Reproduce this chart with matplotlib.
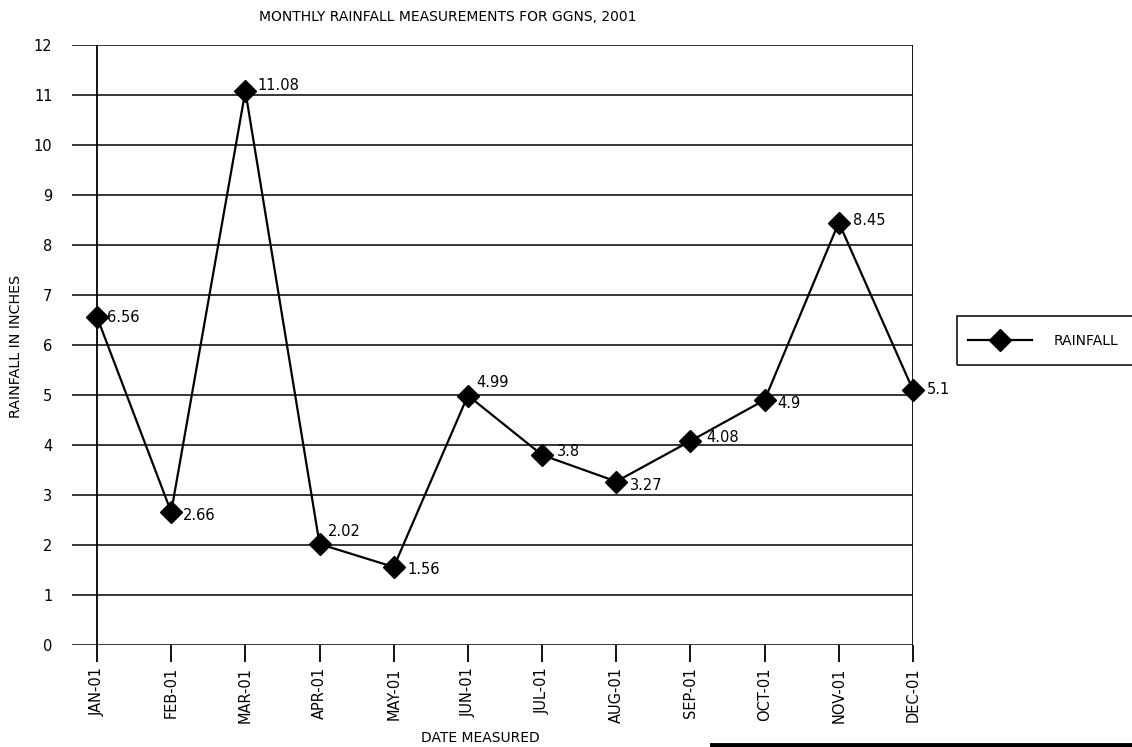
import matplotlib.pyplot as plt
from matplotlib.lines import Line2D
from matplotlib.patches import Rectangle
import numpy as np

# %% DATA
months = ['JAN-01', 'FEB-01', 'MAR-01', 'APR-01', 'MAY-01', 'JUN-01',
          'JUL-01', 'AUG-01', 'SEP-01', 'OCT-01', 'NOV-01', 'DEC-01']
rainfall = [6.56, 2.66, 11.08, 2.02, 1.56, 4.99, 3.8, 3.27, 4.08, 4.9, 8.45, 5.1]
value_labels = ['6.56', '2.66', '11.08', '2.02', '1.56', '4.99',
                '3.8', '3.27', '4.08', '4.9', '8.45', '5.1']
y_ticks = list(range(0, 13))

# label offsets (pixels) next to each marker
label_offsets = [(10, 0), (12, -3), (12, 5), (8, 12), (14, -2), (8, 13),
                 (15, 3), (14, -4), (16, 3), (13, -4), (14, 2), (14, 0)]

# %% FIGURE
W, H = 1132, 747
fig = plt.figure(figsize=(W / 100, H / 100), dpi=100)
plt.rcParams['font.family'] = ['DejaVu Sans']

x0, x1 = 72, 913
ytop, ybot = 45, 645
ax = fig.add_axes([x0 / W, 1 - ybot / H, (x1 - x0) / W, (ybot - ytop) / H])
step = (x1 - 97) / 11
ax.set_xlim(-(97 - x0) / step, 11)
ax.set_ylim(0, 12)

for s in ax.spines.values():
    s.set_visible(False)

for y in y_ticks:
    ax.axhline(y, color='black', lw=1.1, zorder=1)
ax.plot([0, 0], [0, 12], color='black', lw=1.3, zorder=1)
ax.plot([11, 11], [0, 12], color='black', lw=1.3, zorder=1)

x = np.arange(len(months))
line, = ax.plot(x, rainfall, color='black', lw=1.6, marker='D',
                markersize=11, markerfacecolor='black',
                markeredgecolor='black', zorder=3, clip_on=False,
                label='RAINFALL')

for xi, yi, txt, (dx, dy) in zip(x, rainfall, value_labels, label_offsets):
    ax.annotate(txt, (xi, yi), xytext=(dx, dy), textcoords='offset pixels',
                ha='left', va='center', fontsize=10.5)

ax.set_xticks(x)
ax.set_xticklabels(months, rotation=90, fontsize=10.5)
ax.tick_params(axis='x', direction='out', length=12, width=1.3, pad=4)
ax.set_yticks(y_ticks)
ax.set_yticklabels([str(v) for v in y_ticks], fontsize=10.5)
ax.tick_params(axis='y', length=0, pad=14)

ax.set_xlabel('DATE MEASURED', fontsize=10)
ax.xaxis.label.set_va('center')
ax.xaxis.set_label_coords((480 - x0) / (x1 - x0), -(738 - ybot) / (ybot - ytop))
ax.set_ylabel('RAINFALL IN INCHES', fontsize=10.3)
ax.yaxis.label.set_va('center')
ax.yaxis.set_label_coords(-(x0 - 16) / (x1 - x0), (ybot - 346) / (ybot - ytop))

fig.text(448 / W, 1 - 17 / H, 'MONTHLY RAINFALL MEASUREMENTS FOR GGNS, 2001',
         ha='center', va='center', fontsize=10)

# legend box
fig.patches.append(Rectangle((957 / W, 1 - 365 / H), (W + 5 - 957) / W, 49 / H,
                             transform=fig.transFigure, fill=False,
                             edgecolor='black', lw=1.1))
fig.legend(handles=[line], loc='center left',
           bbox_to_anchor=(968 / W, 1 - 341 / H), frameon=False,
           handlelength=4.6, handletextpad=1.6, borderpad=0,
           borderaxespad=0, fontsize=10)

# black bar at bottom right
fig.lines.append(Line2D([712 / W, 1], [1 - 745 / H, 1 - 745 / H],
                        transform=fig.transFigure, color='black', lw=3.5))

fig.savefig('out.png', dpi=100)
